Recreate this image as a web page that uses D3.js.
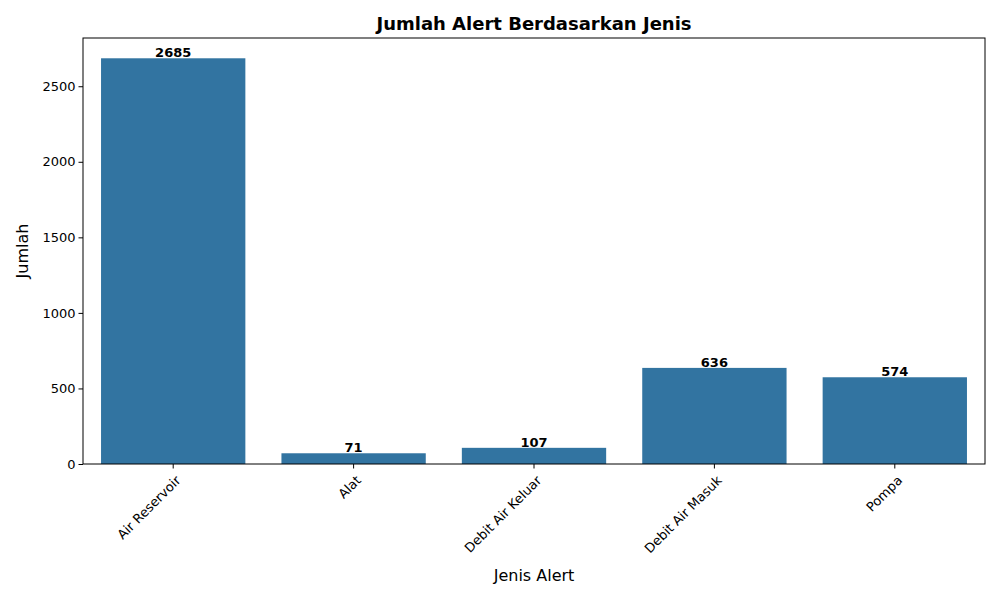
<!DOCTYPE html>
<html>
<head>
<meta charset="utf-8">
<script src="https://cdn.jsdelivr.net/npm/d3@7"></script>
<style>
  body { margin: 0; background: #fff; }
  text { font-family: "DejaVu Sans", sans-serif; }
</style>
</head>
<body>
<svg id="chart" width="1000" height="600"></svg>
<script>
"use strict";

var categories = ["Air Reservoir", "Alat", "Debit Air Keluar", "Debit Air Masuk", "Pompa"];
var counts = [2685, 71, 107, 636, 574];
var yTicks = [0, 500, 1000, 1500, 2000, 2500];

var margin = {left: 83, right: 15, top: 38, bottom: 136};
var W = 1000, H = 600;
var svg = d3.select("#chart");

var x = d3.scaleBand().domain(categories)
    .range([margin.left, W - margin.right]).paddingInner(0.2).paddingOuter(0.1);
var y = d3.scaleLinear().domain([0, d3.max(counts) * 1.05])
    .range([H - margin.bottom, margin.top]);

svg.selectAll("rect.bar")
    .data(categories)
    .enter().append("rect")
    .attr("class", "bar")
    .attr("x", function (d) { return x(d); })
    .attr("width", x.bandwidth())
    .attr("y", function (d, i) { return y(counts[i]); })
    .attr("height", function (d, i) { return y(0) - y(counts[i]); })
    .attr("fill", "#3274a1");

svg.selectAll("text.val")
    .data(categories)
    .enter().append("text")
    .attr("class", "val")
    .attr("x", function (d) { return x(d) + x.bandwidth() / 2; })
    .attr("y", function (d, i) { return y(counts[i]) - 1; })
    .attr("text-anchor", "middle")
    .attr("font-size", 13).attr("font-weight", "bold")
    .text(function (d, i) { return counts[i]; });

var xAxis = svg.append("g")
    .attr("transform", "translate(0," + (H - margin.bottom) + ")")
    .call(d3.axisBottom(x).tickSize(4.5).tickSizeOuter(0));
xAxis.selectAll("text")
    .attr("font-size", 13)
    .attr("text-anchor", "end")
    .attr("x", 0).attr("y", 0).attr("dy", "0.35em")
    .attr("transform", "translate(5,14) rotate(-45)");

var yAxis = svg.append("g")
    .attr("transform", "translate(" + margin.left + ",0)")
    .call(d3.axisLeft(y).tickValues(yTicks).tickFormat(d3.format("d")).tickSize(4.5).tickSizeOuter(0));
yAxis.selectAll("text").attr("font-size", 13);

svg.selectAll(".domain").remove();
svg.append("rect")
    .attr("x", margin.left).attr("y", margin.top)
    .attr("width", W - margin.left - margin.right)
    .attr("height", H - margin.top - margin.bottom)
    .attr("fill", "none").attr("stroke", "#000").attr("stroke-width", 1);

svg.append("text")
    .attr("x", (margin.left + W - margin.right) / 2).attr("y", 30)
    .attr("text-anchor", "middle").attr("font-size", 18).attr("font-weight", "bold")
    .text("Jumlah Alert Berdasarkan Jenis");

svg.append("text")
    .attr("x", (margin.left + W - margin.right) / 2).attr("y", 581)
    .attr("text-anchor", "middle").attr("font-size", 16)
    .text("Jenis Alert");

svg.append("text")
    .attr("transform", "translate(28," + ((margin.top + H - margin.bottom) / 2) + ") rotate(-90)")
    .attr("text-anchor", "middle").attr("font-size", 16)
    .text("Jumlah");
</script>
</body>
</html>
